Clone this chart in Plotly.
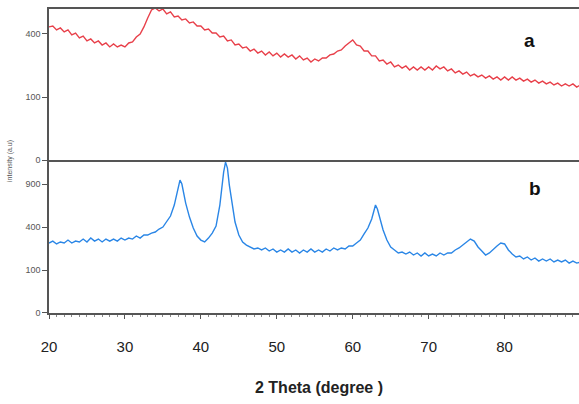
import numpy as np
import plotly.graph_objects as go

# ---- data ----
theta_a = [20.0, 20.5, 21.0, 21.5, 22.0, 22.5, 23.0, 23.5, 24.0, 24.5, 25.0, 25.5, 26.0, 26.5, 27.0, 27.5,
           28.0, 28.5, 29.0, 29.5, 30.0, 30.5, 31.0, 31.5, 32.0, 32.5, 33.0, 33.5, 34.0, 34.5, 35.0, 35.5,
           36.0, 36.5, 37.0, 37.5, 38.0, 38.5, 39.0, 39.5, 40.0, 40.5, 41.0, 41.5, 42.0, 42.5, 43.0, 43.5,
           44.0, 44.5, 45.0, 45.5, 46.0, 46.5, 47.0, 47.5, 48.0, 48.5, 49.0, 49.5, 50.0, 50.5, 51.0, 51.5,
           52.0, 52.5, 53.0, 53.5, 54.0, 54.5, 55.0, 55.5, 56.0, 56.5, 57.0, 57.5, 58.0, 58.5, 59.0, 59.5,
           60.0, 60.5, 61.0, 61.5, 62.0, 62.5, 63.0, 63.5, 64.0, 64.5, 65.0, 65.5, 66.0, 66.5, 67.0, 67.5,
           68.0, 68.5, 69.0, 69.5, 70.0, 70.5, 71.0, 71.5, 72.0, 72.5, 73.0, 73.5, 74.0, 74.5, 75.0, 75.5,
           76.0, 76.5, 77.0, 77.5, 78.0, 78.5, 79.0, 79.5, 80.0, 80.5, 81.0, 81.5, 82.0, 82.5, 83.0, 83.5,
           84.0, 84.5, 85.0, 85.5, 86.0, 86.5, 87.0, 87.5, 88.0, 88.5, 89.0, 89.5, 90.0]
intensity_a = [446, 452, 426, 439, 413, 426, 394, 406, 375, 387, 357, 369, 345, 357, 333, 345,
               322, 339, 322, 333, 322, 345, 351, 381, 400, 446, 508, 567, 582, 559, 574, 537,
               552, 515, 522, 494, 501, 473, 480, 452, 452, 426, 432, 406, 406, 381, 387, 357,
               363, 333, 339, 316, 322, 299, 310, 288, 299, 278, 294, 273, 288, 267, 283, 267,
               278, 257, 273, 252, 262, 242, 257, 247, 262, 262, 278, 283, 299, 305, 327, 345,
               363, 333, 327, 299, 299, 273, 273, 247, 252, 232, 242, 218, 227, 213, 223, 204,
               218, 204, 218, 204, 218, 204, 223, 209, 218, 200, 209, 191, 200, 186, 195, 178,
               186, 174, 182, 169, 178, 165, 174, 161, 174, 161, 174, 161, 169, 157, 165, 153,
               161, 149, 157, 146, 153, 142, 149, 138, 146, 138, 146, 134, 142]

theta_b = [20.0, 20.5, 21.0, 21.5, 22.0, 22.5, 23.0, 23.5, 24.0, 24.5, 25.0, 25.5, 26.0, 26.5, 27.0, 27.5,
           28.0, 28.5, 29.0, 29.5, 30.0, 30.5, 31.0, 31.5, 32.0, 32.5, 33.0, 33.5, 34.0, 34.5, 35.0, 35.5,
           36.0, 36.5, 36.75, 37.0, 37.25, 37.5, 37.75, 38.0, 38.5, 39.0, 39.5, 40.0, 40.5, 41.0, 41.5,
           42.0, 42.5, 42.75, 43.0, 43.25, 43.5, 43.75, 44.0, 44.5, 45.0, 45.5, 46.0, 46.5, 47.0, 47.5,
           48.0, 48.5, 49.0, 49.5, 50.0, 50.5, 51.0, 51.5, 52.0, 52.5, 53.0, 53.5, 54.0, 54.5, 55.0, 55.5,
           56.0, 56.5, 57.0, 57.5, 58.0, 58.5, 59.0, 59.5, 60.0, 60.5, 61.0, 61.5, 62.0, 62.5, 62.75, 63.0,
           63.25, 63.5, 64.0, 64.5, 65.0, 65.5, 66.0, 66.5, 67.0, 67.5, 68.0, 68.5, 69.0, 69.5, 70.0, 70.5,
           71.0, 71.5, 72.0, 72.5, 73.0, 73.5, 74.0, 74.5, 75.0, 75.5, 76.0, 76.5, 77.0, 77.5, 78.0, 78.5,
           79.0, 79.5, 80.0, 80.5, 81.0, 81.5, 82.0, 82.5, 83.0, 83.5, 84.0, 84.5, 85.0, 85.5, 86.0, 86.5,
           87.0, 87.5, 88.0, 88.5, 89.0, 89.5, 90.0]
intensity_b = [265, 280, 258, 273, 265, 288, 265, 280, 273, 296, 273, 304, 280, 296, 273, 296,
               280, 296, 280, 304, 288, 304, 296, 321, 304, 329, 329, 346, 355, 382, 400, 448,
               509, 631, 740, 859, 957, 900, 766, 654, 498, 391, 321, 288, 273, 304, 346,
               409, 631, 845, 1075, 1233, 1137, 886, 715, 448, 329, 273, 250, 236, 222, 229,
               215, 229, 208, 222, 201, 215, 201, 222, 201, 215, 195, 215, 201, 222, 201, 215,
               201, 222, 208, 229, 215, 229, 222, 243, 243, 265, 288, 338, 391, 478, 563, 631,
               585, 498, 373, 288, 236, 215, 195, 201, 188, 201, 182, 195, 176, 195, 176, 188,
               176, 195, 182, 195, 195, 215, 229, 250, 273, 296, 280, 236, 208, 182, 195, 222,
               243, 265, 258, 215, 188, 170, 176, 158, 170, 152, 164, 146, 158, 146, 158, 141,
               152, 141, 152, 135, 146, 135, 141]

x_ticks = [20, 30, 40, 50, 60, 70, 80]
y_ticks_a = [0, 100, 400]
y_ticks_b = [0, 100, 400, 900]

RED = "#e8404a"
BLUE = "#2a86e6"
AXIS = "#555555"
FONT = "Liberation Sans, Arial, sans-serif"

fig = go.Figure()
fig.add_trace(go.Scatter(x=theta_a, y=np.sqrt(intensity_a), mode="lines",
                         line=dict(color=RED, width=1.4), xaxis="x2", yaxis="y2",
                         showlegend=False, hoverinfo="skip"))
fig.add_trace(go.Scatter(x=theta_b, y=np.sqrt(intensity_b), mode="lines",
                         line=dict(color=BLUE, width=1.4), xaxis="x", yaxis="y",
                         showlegend=False, hoverinfo="skip"))

split = 0.503
xrange = [20, 89.8]

fig.update_layout(
    width=579, height=404,
    margin=dict(l=49, r=0, t=9, b=91),
    paper_bgcolor="white", plot_bgcolor="white",
    font=dict(family=FONT),
    xaxis=dict(domain=[0, 1], range=xrange, anchor="y",
               showline=True, linecolor=AXIS, linewidth=1.5,
               showgrid=False, zeroline=False,
               tickmode="array", tickvals=x_ticks, ticktext=[str(v) for v in x_ticks],
               ticks="outside", ticklen=4, tickcolor=AXIS, tickwidth=1,
               minor=dict(dtick=1, ticks="outside", ticklen=2, tickcolor="#888888", tickwidth=1),
               tickfont=dict(size=15, color="#222222", family=FONT),
               ticklabelstandoff=15),
    xaxis2=dict(domain=[0, 1], range=xrange, anchor="y2", matches="x",
                showline=True, linecolor=AXIS, linewidth=1.5, mirror=True,
                showgrid=False, zeroline=False, showticklabels=False, ticks=""),
    yaxis=dict(domain=[0, split], range=[0, np.sqrt(1266)], anchor="x",
               showline=True, linecolor=AXIS, linewidth=1.5,
               showgrid=False, zeroline=False,
               tickmode="array", tickvals=list(np.sqrt(y_ticks_b)),
               ticktext=[str(v) for v in y_ticks_b],
               ticks="outside", ticklen=5, tickcolor=AXIS,
               tickfont=dict(size=9, color="#555555", family=FONT)),
    yaxis2=dict(domain=[split, 1], range=[0, np.sqrt(574)], anchor="x2",
                showline=True, linecolor=AXIS, linewidth=1.5,
                showgrid=False, zeroline=False,
                tickmode="array", tickvals=list(np.sqrt(y_ticks_a)),
                ticktext=[str(v) for v in y_ticks_a],
                ticks="outside", ticklen=5, tickcolor=AXIS,
                tickfont=dict(size=9, color="#555555", family=FONT)),
)

fig.add_annotation(text="<b>2 Theta (degree )</b>", xref="paper", yref="paper",
                   x=0.51, y=-0.2467, showarrow=False, xanchor="center", yanchor="middle",
                   font=dict(size=16, color="#222222", family=FONT))
fig.add_annotation(text="intensity (a.u)", xref="paper", yref="paper",
                   x=-0.0736, y=0.50, showarrow=False, textangle=-90,
                   xanchor="center", yanchor="middle",
                   font=dict(size=7, color="#555555", family=FONT))
fig.add_annotation(text="<b>a</b>", xref="paper", yref="paper", x=0.9075, y=0.898,
                   showarrow=False, xanchor="center", yanchor="middle",
                   font=dict(size=19, color="#111111", family=FONT))
fig.add_annotation(text="<b>b</b>", xref="paper", yref="paper", x=0.917, y=0.411,
                   showarrow=False, xanchor="center", yanchor="middle",
                   font=dict(size=19, color="#111111", family=FONT))

fig.write_html("out.html", config={"displayModeBar": False},
               post_script="document.body.style.margin='0';")
